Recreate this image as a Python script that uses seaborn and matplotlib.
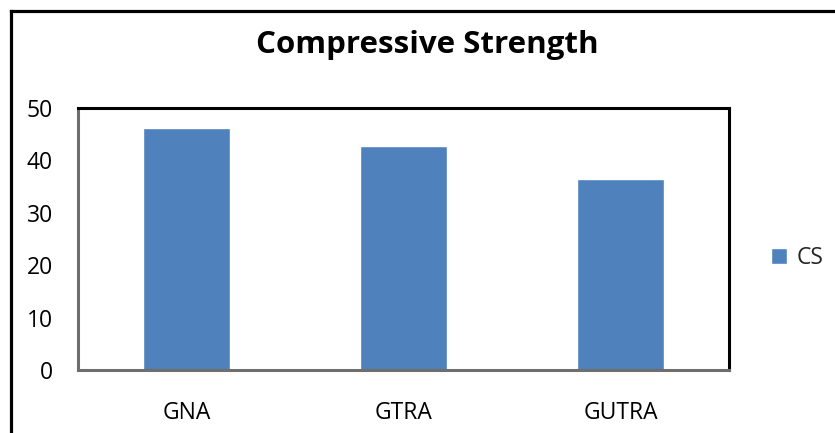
import matplotlib
matplotlib.use("Agg")
import matplotlib.pyplot as plt
from matplotlib.lines import Line2D
import pandas as pd
import seaborn as sns

# Compressive strength by mix
categories = ["GNA", "GTRA", "GUTRA"]
cs_values = [46.2, 42.7, 36.4]
series_name = "CS"
y_ticks = [0, 10, 20, 30, 40, 50]

df = pd.DataFrame({"mix": categories, "value": cs_values, "series": series_name})

sns.set_theme(style="white")
plt.rcParams["font.family"] = ["Open Sans", "DejaVu Sans"]

W, H = 835, 433
fig = plt.figure(figsize=(W / 100, H / 100), dpi=100)
ax = fig.add_axes([78 / W, 1 - 370 / H, (729 - 78) / W, (370 - 108) / H])

sns.barplot(data=df, x="mix", y="value", hue="series", palette=["#4F81BD"],
            width=0.4, saturation=1, ax=ax, legend=True)

ax.set_ylim(0, 50)
ax.set_yticks(y_ticks)
ax.set_xlabel("")
ax.set_ylabel("")
ax.tick_params(axis="y", length=0, pad=18, labelsize=16.5, labelcolor="black")
ax.tick_params(axis="x", length=0, pad=22, labelsize=16.5, labelcolor="black")

# Plot-area frame: grey left/bottom, black top/right
for side in ("left", "bottom"):
    ax.spines[side].set_color("#6e6e6e")
    ax.spines[side].set_linewidth(2.2)
for side in ("top", "right"):
    ax.spines[side].set_color("black")
    ax.spines[side].set_linewidth(2.2)

# Legend to the right of the plot area
ax.legend(loc="center left", bbox_to_anchor=(771 / W, 1 - 258 / H),
          bbox_transform=fig.transFigure, frameon=False, fontsize=16.5,
          handlelength=0.7, handleheight=0.7, handletextpad=0.4,
          borderpad=0, borderaxespad=0)

# Title
fig.text(427 / W, 1 - 53 / H, "Compressive Strength", ha="center", va="baseline",
         fontsize=22.5, fontweight="bold", color="black")

# Chart border along the left and top edges
bx, by = 11 / W, 1 - 11 / H
fig.add_artist(Line2D([bx, bx], [0, by], transform=fig.transFigure,
                      color="black", linewidth=2.3, solid_capstyle="projecting"))
fig.add_artist(Line2D([bx, 1], [by, by], transform=fig.transFigure,
                      color="black", linewidth=2.3, solid_capstyle="projecting"))

fig.savefig("out.png", dpi=100, facecolor="white")
